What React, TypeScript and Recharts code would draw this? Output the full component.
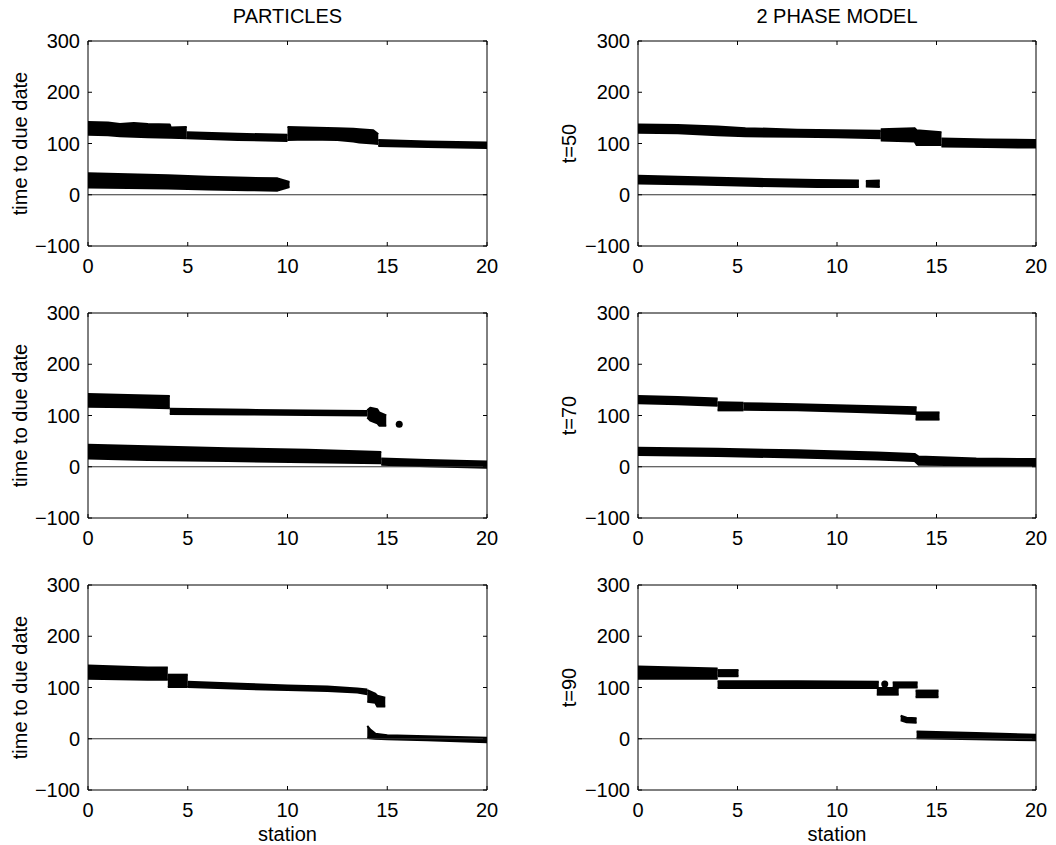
import React from "react";
import {
  Area,
  ComposedChart,
  ReferenceLine,
  Scatter,
  XAxis,
  YAxis,
} from "recharts";

type BandPoint = { s: number; lo: number; hi: number };
type DotPoint = { s: number; v: number };

const stationTicks = [0, 5, 10, 15, 20];
const timeTicks = [-100, 0, 100, 200, 300];
const columnTitles = ["PARTICLES", "2 PHASE MODEL"];
const rowLabels = ["t=50", "t=70", "t=90"];
const particlesLabel = "time to due date";
const xLabel = "station";

// particles, t=50
const tlUpperA: BandPoint[] = [
  { s: 0, lo: 117, hi: 142 },
  { s: 1, lo: 116, hi: 141 },
  { s: 1.6, lo: 114, hi: 138 },
  { s: 2.3, lo: 113, hi: 140 },
  { s: 3, lo: 112, hi: 138 },
  { s: 4.1, lo: 111, hi: 137 },
  { s: 4.15, lo: 111, hi: 131 },
  { s: 4.95, lo: 110, hi: 132 },
];
const tlUpperB: BandPoint[] = [
  { s: 4.95, lo: 110, hi: 122 },
  { s: 7.5, lo: 107, hi: 119 },
  { s: 10, lo: 105, hi: 117 },
];
const tlUpperC: BandPoint[] = [
  { s: 10, lo: 107, hi: 132 },
  { s: 11, lo: 108, hi: 131 },
  { s: 12.5, lo: 107, hi: 130 },
  { s: 13.3, lo: 104, hi: 129 },
  { s: 13.6, lo: 102, hi: 128 },
  { s: 14.3, lo: 100, hi: 126 },
  { s: 14.55, lo: 99, hi: 118 },
];
const tlUpperD: BandPoint[] = [
  { s: 14.55, lo: 95, hi: 107 },
  { s: 17, lo: 93, hi: 104 },
  { s: 20, lo: 91, hi: 102 },
];
const tlLower: BandPoint[] = [
  { s: 0, lo: 14, hi: 42 },
  { s: 2, lo: 13, hi: 40 },
  { s: 4, lo: 12, hi: 38 },
  { s: 6, lo: 10, hi: 35 },
  { s: 8, lo: 9, hi: 33 },
  { s: 9.5, lo: 8, hi: 32 },
  { s: 10.1, lo: 15, hi: 25 },
];

// 2 phase model, t=50
const trUpper: BandPoint[] = [
  { s: 0, lo: 121, hi: 137 },
  { s: 2, lo: 120, hi: 136 },
  { s: 4, lo: 116, hi: 133 },
  { s: 5.4, lo: 114, hi: 130 },
  { s: 8, lo: 113, hi: 127 },
  { s: 10, lo: 112, hi: 126 },
  { s: 12.2, lo: 110, hi: 125 },
];
const trMix: BandPoint[] = [
  { s: 12.2, lo: 106, hi: 128 },
  { s: 13.9, lo: 104, hi: 130 },
  { s: 14, lo: 97, hi: 126 },
  { s: 15.25, lo: 97, hi: 122 },
];
const trTail: BandPoint[] = [
  { s: 15.25, lo: 94, hi: 110 },
  { s: 17.5, lo: 93, hi: 108 },
  { s: 20, lo: 92, hi: 107 },
];
const trLower: BandPoint[] = [
  { s: 0, lo: 22, hi: 37 },
  { s: 3, lo: 20, hi: 34 },
  { s: 6, lo: 17, hi: 31 },
  { s: 9, lo: 15, hi: 29 },
  { s: 11.1, lo: 15, hi: 28 },
];
const trLowerTip: BandPoint[] = [
  { s: 11.45, lo: 16, hi: 27 },
  { s: 12.15, lo: 15, hi: 28 },
];

// particles, t=70
const mlUpperA: BandPoint[] = [
  { s: 0, lo: 117, hi: 142 },
  { s: 2, lo: 116, hi: 140 },
  { s: 4.1, lo: 114, hi: 138 },
];
const mlUpperB: BandPoint[] = [
  { s: 4.1, lo: 103, hi: 113 },
  { s: 8, lo: 102, hi: 111 },
  { s: 11, lo: 101, hi: 110 },
  { s: 14, lo: 100, hi: 109 },
];
const mlBlob: BandPoint[] = [
  { s: 14, lo: 96, hi: 110 },
  { s: 14.15, lo: 90, hi: 115 },
  { s: 14.5, lo: 85, hi: 112 },
  { s: 14.6, lo: 80, hi: 106 },
  { s: 14.95, lo: 80, hi: 100 },
];
const mlLowerA: BandPoint[] = [
  { s: 0, lo: 16, hi: 43 },
  { s: 3, lo: 13, hi: 40 },
  { s: 7, lo: 11, hi: 36 },
  { s: 11, lo: 9, hi: 33 },
  { s: 14.7, lo: 7, hi: 29 },
];
const mlLowerB: BandPoint[] = [
  { s: 14.7, lo: 4, hi: 16 },
  { s: 17, lo: 1, hi: 13 },
  { s: 20, lo: -2, hi: 10 },
];
const mlDots: DotPoint[] = [{ s: 15.6, v: 83 }];

// 2 phase model, t=70
const mrUpperA: BandPoint[] = [
  { s: 0, lo: 124, hi: 138 },
  { s: 2, lo: 122, hi: 136 },
  { s: 4, lo: 119, hi: 133 },
];
const mrUpperB: BandPoint[] = [
  { s: 4, lo: 110, hi: 126 },
  { s: 5.3, lo: 110, hi: 125 },
];
const mrUpperC: BandPoint[] = [
  { s: 5.3, lo: 111, hi: 124 },
  { s: 8, lo: 110, hi: 122 },
  { s: 11, lo: 107, hi: 119 },
  { s: 14, lo: 103, hi: 116 },
];
const mrBlock: BandPoint[] = [
  { s: 13.95, lo: 92, hi: 106 },
  { s: 15.15, lo: 92, hi: 106 },
];
const mrLower: BandPoint[] = [
  { s: 0, lo: 23, hi: 37 },
  { s: 4, lo: 21, hi: 35 },
  { s: 8, lo: 18, hi: 32 },
  { s: 12, lo: 14, hi: 28 },
  { s: 13.9, lo: 11, hi: 25 },
  { s: 14.1, lo: 4, hi: 20 },
  { s: 17, lo: 3, hi: 16 },
  { s: 20, lo: 2, hi: 15 },
];

// particles, t=90
const blUpperA: BandPoint[] = [
  { s: 0, lo: 117, hi: 143 },
  { s: 1.5, lo: 116, hi: 141 },
  { s: 3, lo: 115, hi: 139 },
  { s: 4, lo: 115, hi: 139 },
];
const blUpperB: BandPoint[] = [
  { s: 4, lo: 101, hi: 125 },
  { s: 5, lo: 101, hi: 125 },
];
const blThin: BandPoint[] = [
  { s: 5, lo: 101, hi: 111 },
  { s: 8, lo: 97, hi: 107 },
  { s: 10, lo: 95, hi: 104 },
  { s: 12, lo: 93, hi: 102 },
  { s: 13.5, lo: 90, hi: 98 },
  { s: 14, lo: 87, hi: 96 },
];
const blBlob: BandPoint[] = [
  { s: 14, lo: 72, hi: 95 },
  { s: 14.4, lo: 70, hi: 88 },
  { s: 14.5, lo: 63, hi: 84 },
  { s: 14.9, lo: 63, hi: 80 },
];
const blLower: BandPoint[] = [
  { s: 14, lo: 2, hi: 25 },
  { s: 14.15, lo: 1, hi: 18 },
  { s: 14.4, lo: 0, hi: 10 },
  { s: 15, lo: -1, hi: 7 },
  { s: 17, lo: -3, hi: 5 },
  { s: 20, lo: -7, hi: 2 },
];

// 2 phase model, t=90
const brUpperA: BandPoint[] = [
  { s: 0, lo: 117, hi: 141 },
  { s: 2, lo: 117, hi: 139 },
  { s: 4, lo: 117, hi: 137 },
];
const brUpperB: BandPoint[] = [
  { s: 4, lo: 122, hi: 134 },
  { s: 5.05, lo: 122, hi: 134 },
];
const brRowA: BandPoint[] = [
  { s: 4, lo: 99, hi: 112 },
  { s: 8, lo: 99, hi: 112 },
  { s: 12.1, lo: 99, hi: 111 },
];
const brBlockA: BandPoint[] = [
  { s: 12, lo: 86, hi: 99 },
  { s: 13.1, lo: 86, hi: 99 },
];
const brRowB: BandPoint[] = [
  { s: 12.8, lo: 100, hi: 110 },
  { s: 14.05, lo: 100, hi: 110 },
];
const brBlockB: BandPoint[] = [
  { s: 13.95, lo: 81, hi: 94 },
  { s: 15.1, lo: 81, hi: 94 },
];
const brSmall: BandPoint[] = [
  { s: 13.2, lo: 36, hi: 45 },
  { s: 13.5, lo: 32, hi: 41 },
  { s: 14, lo: 31, hi: 40 },
];
const brLower: BandPoint[] = [
  { s: 14, lo: 1, hi: 14 },
  { s: 17, lo: -1, hi: 11 },
  { s: 20, lo: -3, hi: 8 },
];
const brDots: DotPoint[] = [{ s: 12.4, v: 107 }];

const FONT = '"Liberation Sans", Arial, Helvetica, sans-serif';

const fmt = (v: number) => (v < 0 ? `\u2212${Math.abs(v)}` : String(v));

const BottomTick = (props: any) => {
  const { x, y, payload } = props;
  return (
    <g>
      <line x1={x} y1={y} x2={x} y2={y - 4} stroke="#000" />
      <text x={x} y={y + 27} textAnchor="middle" fontSize={20} fontFamily={FONT} fill="#000">
        {payload.value}
      </text>
    </g>
  );
};

const TopTick = (props: any) => {
  const { x, y } = props;
  return <line x1={x} y1={y} x2={x} y2={y + 4} stroke="#000" />;
};

const LeftTick = (props: any) => {
  const { x, y, payload } = props;
  return (
    <g>
      <line x1={x} y1={y} x2={x + 4} y2={y} stroke="#000" />
      <text x={x - 8} y={y + 7} textAnchor="end" fontSize={20} fontFamily={FONT} fill="#000">
        {fmt(payload.value)}
      </text>
    </g>
  );
};

const RightTick = (props: any) => {
  const { x, y } = props;
  return <line x1={x} y1={y} x2={x - 4} y2={y} stroke="#000" />;
};

const dotShape = (p: any) => <circle cx={p.cx} cy={p.cy} r={3.5} fill="#000" />;

type PanelProps = {
  left: number;
  top: number;
  yAxisLeft: number;
  yAxisRight: number;
  bands: BandPoint[][];
  dots?: DotPoint[];
};

function Panel({ left, top, yAxisLeft, yAxisRight, bands, dots }: PanelProps) {
  return (
    <div style={{ position: "absolute", left, top }}>
      <ComposedChart width={528} height={300} margin={{ top: 0, right: 0, bottom: 0, left: 0 }}>
        <XAxis
          xAxisId="bottom"
          dataKey="s"
          type="number"
          domain={[0, 20]}
          ticks={stationTicks}
          interval={0}
          allowDataOverflow
          height={54}
          tickSize={0}
          tickMargin={0}
          tick={BottomTick}
          axisLine={{ stroke: "#000" }}
        />
        <XAxis
          xAxisId="top"
          orientation="top"
          dataKey="s"
          type="number"
          domain={[0, 20]}
          ticks={stationTicks}
          interval={0}
          allowDataOverflow
          height={41}
          tickSize={0}
          tickMargin={0}
          tick={TopTick}
          axisLine={{ stroke: "#000" }}
        />
        <YAxis
          yAxisId="left"
          type="number"
          domain={[-100, 300]}
          ticks={timeTicks}
          interval={0}
          allowDataOverflow
          width={yAxisLeft}
          tickSize={0}
          tickMargin={0}
          tick={LeftTick}
          axisLine={{ stroke: "#000" }}
        />
        <YAxis
          yAxisId="right"
          orientation="right"
          type="number"
          domain={[-100, 300]}
          ticks={timeTicks}
          interval={0}
          allowDataOverflow
          width={yAxisRight}
          tickSize={0}
          tickMargin={0}
          tick={RightTick}
          axisLine={{ stroke: "#000" }}
        />
        <ReferenceLine xAxisId="bottom" yAxisId="left" y={0} stroke="#333" strokeWidth={1} />
        {bands.map((band, i) => (
          <Area
            key={i}
            xAxisId="bottom"
            yAxisId="left"
            data={band}
            dataKey={(d: BandPoint) => [d.lo, d.hi]}
            type="linear"
            stroke="#000"
            strokeWidth={2}
            strokeLinejoin="round"
            fill="#000"
            fillOpacity={1}
            dot={false}
            activeDot={false}
            isAnimationActive={false}
          />
        ))}
        {dots && (
          <Scatter
            xAxisId="bottom"
            yAxisId="left"
            data={dots}
            dataKey="v"
            fill="#000"
            shape={dotShape}
            isAnimationActive={false}
          />
        )}
      </ComposedChart>
    </div>
  );
}

const rowTops = [0, 272, 544];

export default function App() {
  const textStyle = { fontFamily: FONT, fontSize: 20, fill: "#000" } as const;
  return (
    <div
      style={{
        position: "absolute",
        left: 0,
        top: 0,
        width: 1056,
        height: 845,
        background: "#fff",
        overflow: "hidden",
      }}
    >
      <Panel left={0} top={rowTops[0]} yAxisLeft={88} yAxisRight={41}
        bands={[tlUpperA, tlUpperB, tlUpperC, tlUpperD, tlLower]} />
      <Panel left={528} top={rowTops[0]} yAxisLeft={110} yAxisRight={20}
        bands={[trUpper, trMix, trTail, trLower, trLowerTip]} />
      <Panel left={0} top={rowTops[1]} yAxisLeft={88} yAxisRight={41}
        bands={[mlUpperA, mlUpperB, mlBlob, mlLowerA, mlLowerB]} dots={mlDots} />
      <Panel left={528} top={rowTops[1]} yAxisLeft={110} yAxisRight={20}
        bands={[mrUpperA, mrUpperB, mrUpperC, mrBlock, mrLower]} />
      <Panel left={0} top={rowTops[2]} yAxisLeft={88} yAxisRight={41}
        bands={[blUpperA, blUpperB, blThin, blBlob, blLower]} />
      <Panel left={528} top={rowTops[2]} yAxisLeft={110} yAxisRight={20}
        bands={[brUpperA, brUpperB, brRowA, brBlockA, brRowB, brBlockB, brSmall, brLower]}
        dots={brDots} />
      <svg
        width={1056}
        height={845}
        style={{ position: "absolute", left: 0, top: 0, pointerEvents: "none" }}
      >
        <text x={287.5} y={23} textAnchor="middle" {...textStyle}>{columnTitles[0]}</text>
        <text x={837} y={23} textAnchor="middle" {...textStyle}>{columnTitles[1]}</text>
        {rowTops.map((rt, i) => (
          <g key={i}>
            <text
              transform={`translate(27,${rt + 143.5}) rotate(-90)`}
              textAnchor="middle"
              {...textStyle}
            >
              {particlesLabel}
            </text>
            <text
              transform={`translate(576,${rt + 143.5}) rotate(-90)`}
              textAnchor="middle"
              {...textStyle}
            >
              {rowLabels[i]}
            </text>
          </g>
        ))}
        <text x={287.5} y={841} textAnchor="middle" {...textStyle}>{xLabel}</text>
        <text x={837} y={841} textAnchor="middle" {...textStyle}>{xLabel}</text>
      </svg>
    </div>
  );
}
